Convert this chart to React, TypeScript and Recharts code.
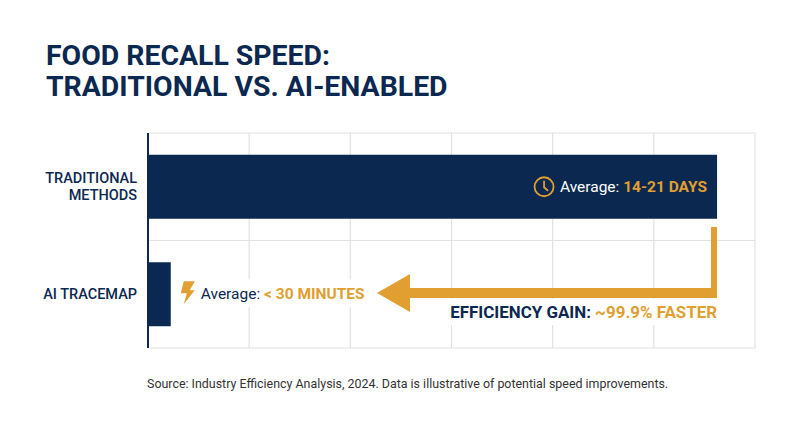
import { BarChart, Bar, XAxis, YAxis, CartesianGrid } from 'recharts'

const NAVY = '#0a2850'
const GOLD = '#e09f30'
const FONT = 'Roboto, sans-serif'

const methods = ['TRADITIONAL METHODS', 'AI TRACEMAP']
const speeds = [22.5, 0.9]
const averages = ['14-21 DAYS', '< 30 MINUTES']
const xTicks = [0, 4, 8, 12, 16, 20, 24]

const titleLines = ['FOOD RECALL SPEED:', 'TRADITIONAL VS. AI-ENABLED']
const sourceNote = 'Source: Industry Efficiency Analysis, 2024. Data is illustrative of potential speed improvements.'

const chartData = methods.map((method, i) => ({ method, speed: speeds[i] }))

function MethodTick({ y, payload }: any) {
  const label: string = payload.value
  const lines = label === 'TRADITIONAL METHODS' ? ['TRADITIONAL', 'METHODS'] : [label]
  const startY = y + 5 - ((lines.length - 1) * 17) / 2
  return (
    <text x={137} textAnchor="end" fontFamily={FONT} fontSize={14.5} fontWeight={500} fill={NAVY}>
      {lines.map((line, i) => (
        <tspan key={line} x={137} y={startY + i * 17}>{line}</tspan>
      ))}
    </text>
  )
}

// the "Average: ..." note sits inside the long bar and just past the short one
function AverageNote({ x, y, width, height, index }: any) {
  const midY = y + height / 2
  if (index === 0) {
    const right = x + width - 10
    return (
      <g fontFamily={FONT}>
        <circle cx={right - 163} cy={midY} r={9.5} fill="none" stroke={GOLD} strokeWidth={1.8} />
        <path
          d={`M${right - 163} ${midY - 6} v6.5 l4 3.5`}
          fill="none"
          stroke={GOLD}
          strokeWidth={1.8}
        />
        <text x={right} y={midY + 5} textAnchor="end" fontSize={15.5}>
          <tspan fill="#fff">Average: </tspan>
          <tspan fill={GOLD} fontWeight={700}>{averages[index]}</tspan>
        </text>
      </g>
    )
  }
  const left = x + width
  return (
    <g fontFamily={FONT}>
      <rect x={left + 25} y={midY - 15} width={174} height={28} fill="#fff" />
      <path
        d={`M${left + 13} ${midY - 13} h11 l-5 9 h5 l-11 14 l3 -11 h-6 Z`}
        fill={GOLD}
      />
      <text x={left + 30} y={midY + 5} fontSize={15.5}>
        <tspan fill={NAVY}>Average: </tspan>
        <tspan fill={GOLD} fontWeight={700}>{averages[index]}</tspan>
      </text>
    </g>
  )
}

export default function App() {
  return (
    <div style={{ position: 'absolute', left: 0, top: 0, width: 800, height: 447, background: '#fff' }}>
      <BarChart
        width={800}
        height={447}
        layout="vertical"
        data={chartData}
        barCategoryGap={21.75}
        margin={{ top: 133, right: 45, bottom: 99, left: 0 }}
      >
        <CartesianGrid stroke="#e2e2e2" strokeWidth={1.2} horizontalPoints={[133, 240.5, 348]} />
        <XAxis type="number" domain={[0, 24]} ticks={xTicks} hide />
        <YAxis
          type="category"
          dataKey="method"
          width={148}
          axisLine={{ stroke: NAVY, strokeWidth: 2 }}
          tickLine={false}
          tick={<MethodTick />}
          interval={0}
        />
        <Bar dataKey="speed" fill={NAVY} isAnimationActive={false} label={<AverageNote />} />

        {/* annotations */}
        <g fontFamily={FONT}>
          {titleLines.map((line, i) => (
            <text key={line} x={46} y={65 + i * 31} fontSize={28.4} fontWeight={700} fill={NAVY}>{line}</text>
          ))}

          <path
            d="M377 293 L410 274 V288 H711 V227 H717 V298 H410 V312 Z"
            fill={GOLD}
          />

          <rect x={446} y={299} width={273} height={26} fill="#fff" />
          <text x={717} y={318} textAnchor="end" fontSize={16.9} fontWeight={700}>
            <tspan fill={NAVY}>EFFICIENCY GAIN: </tspan>
            <tspan fill={GOLD}>~99.9% FASTER</tspan>
          </text>

          <text x={147} y={388} fontSize={12.43} fill="#333">{sourceNote}</text>
        </g>
      </BarChart>
    </div>
  )
}
